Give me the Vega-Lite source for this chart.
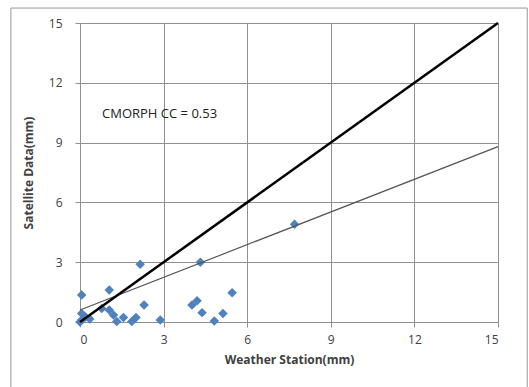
{
  "$schema": "https://vega.github.io/schema/vega-lite/v6.json",
  "width": 418,
  "height": 299,
  "autosize": "none",
  "padding": {"left": 80, "top": 23, "right": 31, "bottom": 65},
  "background": "white",
  "config": {
    "view": {"stroke": null},
    "font": "Open Sans",
    "axis": {
      "grid": true,
      "gridColor": "#909090",
      "gridWidth": 1,
      "gridOpacity": 1,
      "domainColor": "#909090",
      "tickColor": "#909090",
      "tickSize": 5,
      "labelFont": "Open Sans",
      "labelFontSize": 12,
      "labelColor": "#404040",
      "titleFont": "Open Sans",
      "titleFontSize": 12,
      "titleFontWeight": "bold",
      "titleColor": "#404040"
    }
  },
  "datasets": {
    "points": [
      {"station": 0.06, "satellite": 1.35},
      {"station": 0.06, "satellite": 0.43},
      {"station": 0.06, "satellite": 0.1},
      {"station": 0.0, "satellite": 0.0},
      {"station": 0.2, "satellite": 0.25},
      {"station": 0.35, "satellite": 0.15},
      {"station": 1.05, "satellite": 1.6},
      {"station": 2.16, "satellite": 2.9},
      {"station": 0.78, "satellite": 0.68},
      {"station": 1.05, "satellite": 0.6},
      {"station": 1.2, "satellite": 0.35},
      {"station": 1.32, "satellite": 0.02},
      {"station": 1.56, "satellite": 0.23},
      {"station": 1.86, "satellite": 0.02},
      {"station": 2.01, "satellite": 0.23},
      {"station": 2.3, "satellite": 0.85},
      {"station": 2.88, "satellite": 0.1},
      {"station": 4.32, "satellite": 3.0},
      {"station": 4.02, "satellite": 0.85},
      {"station": 4.2, "satellite": 1.07},
      {"station": 4.38, "satellite": 0.47},
      {"station": 4.82, "satellite": 0.05},
      {"station": 5.13, "satellite": 0.43},
      {"station": 5.46, "satellite": 1.47},
      {"station": 7.7, "satellite": 4.9}
    ],
    "lines": [
      {"line": "1:1", "station": 0, "satellite": 0},
      {"line": "1:1", "station": 15, "satellite": 15},
      {"line": "fit", "station": 0, "satellite": 0.6},
      {"line": "fit", "station": 15, "satellite": 8.8}
    ],
    "label": [{"station": 0.79, "satellite": 10.45, "text": "CMORPH CC = 0.53"}]
  },
  "layer": [
    {
      "data": {"name": "points"},
      "mark": {"type": "point", "shape": "diamond", "filled": true, "size": 90, "color": "#4f81bd", "opacity": 1},
      "encoding": {
        "x": {
          "field": "station", "type": "quantitative",
          "scale": {"domain": [0, 15], "nice": false},
          "axis": {"values": [0, 3, 6, 9, 12, 15], "grid": true, "title": "Weather Station(mm)", "labelPadding": 7, "titlePadding": 9}
        },
        "y": {
          "field": "satellite", "type": "quantitative",
          "scale": {"domain": [0, 15], "nice": false},
          "axis": {"values": [0, 3, 6, 9, 12, 15], "grid": true, "title": "Satellite Data(mm)", "labelPadding": 13, "titlePadding": 13}
        }
      }
    },
    {
      "data": {"name": "lines"},
      "transform": [{"filter": "datum.line === 'fit'"}],
      "mark": {"type": "line", "color": "#555555", "strokeWidth": 1.2},
      "encoding": {
        "x": {"field": "station", "type": "quantitative"},
        "y": {"field": "satellite", "type": "quantitative"}
      }
    },
    {
      "data": {"name": "lines"},
      "transform": [{"filter": "datum.line === '1:1'"}],
      "mark": {"type": "line", "color": "#000000", "strokeWidth": 2.5},
      "encoding": {
        "x": {"field": "station", "type": "quantitative"},
        "y": {"field": "satellite", "type": "quantitative"}
      }
    },
    {
      "data": {"name": "label"},
      "mark": {"type": "text", "align": "left", "baseline": "middle", "fontSize": 13, "font": "Open Sans", "color": "#222222"},
      "encoding": {
        "x": {"field": "station", "type": "quantitative"},
        "y": {"field": "satellite", "type": "quantitative"},
        "text": {"field": "text"}
      }
    },
    {
      "data": {"values": [{}]},
      "mark": {"type": "rect", "fill": null, "stroke": "#999999", "strokeWidth": 1, "clip": false},
      "encoding": {
        "x": {"datum": -2.48, "type": "quantitative"},
        "x2": {"datum": 16.05},
        "y": {"datum": 15.75, "type": "quantitative"},
        "y2": {"datum": -3.3}
      }
    }
  ]
}
